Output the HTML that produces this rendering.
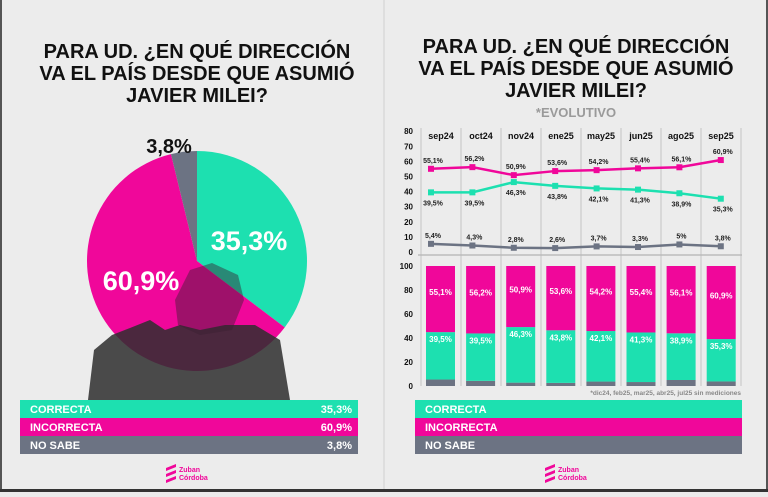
<!DOCTYPE html>
<html><head><meta charset="utf-8"><style>
body{margin:0;width:768px;height:492px;background:#ebebeb;overflow:hidden;font-family:"Liberation Sans",sans-serif}
svg text{font-family:"Liberation Sans",sans-serif;font-weight:bold}
</style></head><body>
<svg width="768" height="492">
<rect x="0" y="0" width="768" height="492" fill="#ececec"/>
<rect x="0" y="0" width="2" height="492" fill="#555"/><rect x="766" y="0" width="2" height="492" fill="#555"/>
<rect x="0" y="489" width="768" height="3" fill="#333"/>
<line x1="384" y1="0" x2="384" y2="489" stroke="#d0d0d0" stroke-width="1"/>
<g id="titles" font-size="20" text-anchor="middle" fill="#111">
<text x="197" y="58">PARA UD. ¿EN QUÉ DIRECCIÓN</text>
<text x="197" y="80">VA EL PAÍS DESDE QUE ASUMIÓ</text>
<text x="197" y="102">JAVIER MILEI?</text>
<text x="576" y="53">PARA UD. ¿EN QUÉ DIRECCIÓN</text>
<text x="576" y="75">VA EL PAÍS DESDE QUE ASUMIÓ</text>
<text x="576" y="97">JAVIER MILEI?</text>
<text x="576" y="117" font-size="13" fill="#9a9a9a" font-weight="normal">*EVOLUTIVO</text>
</g>
<g id="pie"></g>
<g id="person">
<path d="M88,400 L94,350 L112,335 L130,328 L150,320 L165,330 L180,325 L200,330 L225,325 L255,325 L280,340 L290,400 Z" fill="#2e2e2e" opacity="0.85"/>
<path d="M175,300 L190,270 L212,263 L238,275 L244,300 L232,330 L200,335 L178,325 Z" fill="#3a2030" opacity="0.45"/>
</g>
<g id="pielabels"></g>
<g id="line"></g>
<g id="bars"></g>
<g id="legends"></g>
<g><path d="M166,468 l10,-4 v3 l-10,4 z M166,474 l10,-4 v3 l-10,4 z M166,480 l10,-4 v3 l-10,4z" fill="#f0079a"/><text x="179" y="472" font-size="7" fill="#f0079a">Zuban</text><text x="179" y="480" font-size="7" fill="#f0079a">Córdoba</text></g>
<g><path d="M545,468 l10,-4 v3 l-10,4 z M545,474 l10,-4 v3 l-10,4 z M545,480 l10,-4 v3 l-10,4z" fill="#f0079a"/><text x="558" y="472" font-size="7" fill="#f0079a">Zuban</text><text x="558" y="480" font-size="7" fill="#f0079a">Córdoba</text></g>
</svg>
<script>
const months=["sep24","oct24","nov24","ene25","may25","jun25","ago25","sep25"];
const correcta=[39.5,39.5,46.3,43.8,42.1,41.3,38.9,35.3];
const incorrecta=[55.1,56.2,50.9,53.6,54.2,55.4,56.1,60.9];
const nosabe=[5.4,4.3,2.8,2.6,3.7,3.3,5,3.8];
const pieValues=[35.3,60.9,3.8];
const pieNames=["CORRECTA","INCORRECTA","NO SABE"];
const lineTicks=[0,10,20,30,40,50,60,70,80];
const barTicks=[0,20,40,60,80,100];
const colors=["#1de0b0","#f0079a","#6c7383"];
const NS="http://www.w3.org/2000/svg";
function mk(p,t,a,txt){const e=document.createElementNS(NS,t);for(const k in a)e.setAttribute(k,a[k]);if(txt!=null)e.textContent=txt;p.appendChild(e);return e;}
const fmt=v=>String(v).replace('.',',')+'%';
// pie
const pie=document.getElementById('pie'),pl=document.getElementById('pielabels');
const cx=197,cy=261,R=110;let acc=0;const tot=pieValues.reduce((a,b)=>a+b,0);
pieValues.forEach((v,i)=>{const a0=acc/tot*2*Math.PI;acc+=v;const a1=acc/tot*2*Math.PI;
const p=(a)=>[cx+R*Math.sin(a),cy-R*Math.cos(a)];const [x0,y0]=p(a0),[x1,y1]=p(a1);
const e=mk(pie,'path',{d:`M${cx},${cy} L${x0},${y0} A${R},${R} 0 ${a1-a0>Math.PI?1:0} 1 ${x1},${y1} Z`,fill:colors[i]});

});
[[249,250,'#fff',27],[141,290,'#fff',27],[169,153,'#111',20]].forEach((c,i)=>{
const t=mk(pl,'text',{x:c[0],y:c[1],fill:c[2],'font-size':c[3],'text-anchor':'middle'},fmt(pieValues[i]));

});
// line chart
const L=document.getElementById('line');
const ly=v=>252-v*1.51, px=i=>431+i*41.4;
lineTicks.forEach(t=>{const e=mk(L,'text',{x:413,y:ly(t)+3,'font-size':8,'text-anchor':'end',fill:'#111'},t);

});
for(let i=0;i<=8;i++)mk(L,'line',{x1:421+40*i,y1:128,x2:421+40*i,y2:386,stroke:'#c4c4c4','stroke-width':1});
mk(L,'line',{x1:418,y1:255,x2:742,y2:255,stroke:'#bbb','stroke-width':1.5});
months.forEach((m,i)=>{const e=mk(L,'text',{x:441+40*i,y:139,'font-size':9,'text-anchor':'middle',fill:'#111'},m);

});
[[incorrecta,1,-1],[correcta,0,1],[nosabe,2,-1]].forEach(([arr,ci,pos])=>{
const pts=arr.map((v,i)=>px(i)+','+ly(v)).join(' ');
const pl2=mk(L,'polyline',{points:pts,fill:'none',stroke:colors[ci],'stroke-width':2.5});


arr.forEach((v,i)=>{const r=mk(L,'rect',{x:px(i)-3,y:ly(v)-3,width:6,height:6,fill:colors[ci]});


const t=mk(L,'text',{x:px(i)+2,y:ly(v)+(pos<0?-6:13),'font-size':7,'text-anchor':'middle',fill:'#222'},fmt(v));

});});
// bars
const B=document.getElementById('bars');const by=v=>386-v*1.2;
barTicks.forEach(t=>{const e=mk(B,'text',{x:413,y:by(t)+3,'font-size':8,'text-anchor':'end',fill:'#111'},t);

});
months.forEach((m,i)=>{const x=426+40.1*i;let base=0;
[[nosabe,2],[correcta,0],[incorrecta,1]].forEach(([arr,ci])=>{const v=arr[i];
const r=mk(B,'rect',{x:x,y:by(base+v),width:29,height:v*1.2,fill:colors[ci]});


const ty=ci==1?by(base+v)+v*1.2/2-4:by(base+v)+10;
const t=mk(B,'text',{x:x+14.5,y:ci==2?by(base+v)-2:ty,'font-size':8,'text-anchor':'middle',fill:'#fff'},fmt(v));


base+=v;});});
const fn=mk(B,'text',{x:741,y:395,'font-size':6.5,'text-anchor':'end',fill:'#888'},'*dic24, feb25, mar25, abr25, jul25 sin mediciones');


// legends
const G=document.getElementById('legends');
[[20,358,true],[415,742,false]].forEach(([x0,x1,vals])=>{pieNames.forEach((n,i)=>{const y=400+i*18;
const r=mk(G,'rect',{x:x0,y:y,width:x1-x0,height:18,fill:colors[i]});


const t=mk(G,'text',{x:x0+10,y:y+13,'font-size':11,fill:'#fff'},n);


if(vals){const v=mk(G,'text',{x:x1-6,y:y+13,'font-size':11,fill:'#fff','text-anchor':'end'},fmt(pieValues[i]));

}});});
</script>
</body></html>
